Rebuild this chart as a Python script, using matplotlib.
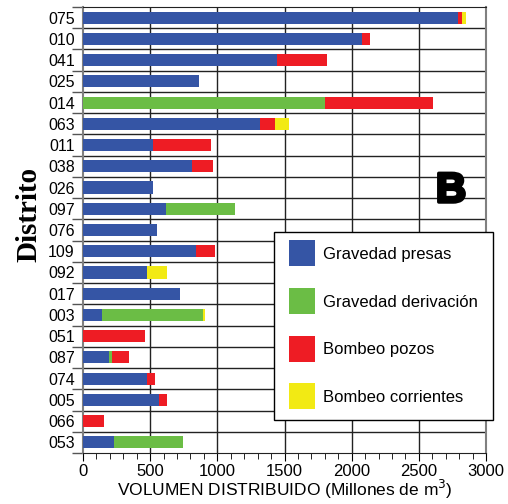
import matplotlib.pyplot as plt
import matplotlib.patheffects as pe
from matplotlib.legend_handler import HandlerPatch
from matplotlib.patches import Rectangle
import numpy as np

distritos = ['075', '010', '041', '025', '014', '063', '011', '038', '026', '097', '076',
             '109', '092', '017', '003', '051', '087', '074', '005', '066', '053']
gravedad_presas = [2795, 2075, 1445, 866, 0, 1318, 524, 809, 519, 616, 553,
                   839, 479, 722, 141, 0, 194, 479, 566, 0, 228]
gravedad_derivacion = [0, 0, 0, 0, 1800, 0, 0, 0, 0, 516, 0,
                       0, 0, 0, 752, 0, 24, 0, 0, 0, 519]
bombeo_pozos = [28, 65, 370, 0, 806, 112, 426, 161, 0, 0, 0,
                146, 0, 0, 0, 462, 124, 55, 57, 156, 0]
bombeo_corrientes = [30, 0, 0, 0, 0, 104, 0, 0, 0, 0, 0,
                     0, 144, 0, 13, 0, 0, 0, 0, 0, 0]

series = [('Gravedad presas', gravedad_presas, '#3555a5'),
          ('Gravedad derivación', gravedad_derivacion, '#6bbd45'),
          ('Bombeo pozos', bombeo_pozos, '#ee1c24'),
          ('Bombeo corrientes', bombeo_corrientes, '#f2ea14')]

plt.rcParams['font.family'] = ['Liberation Sans', 'DejaVu Sans']

fig = plt.figure(figsize=(5.08, 5.04), dpi=100)
ax = fig.add_axes([83/508, 1-453/504, 403/508, 446/504])

y = np.arange(len(distritos))
left = np.zeros(len(distritos))
bars = []
for nombre, vals, color in series:
    vals = np.array(vals, dtype=float)
    b = ax.barh(y, vals, left=left, height=0.57, color=color, label=nombre, zorder=3)
    bars.append(b)
    left += vals

ax.set_xlim(0, 3000)
ax.set_ylim(len(distritos) - 0.5, -0.5)
ax.set_xticks(np.arange(0, 3001, 500))
ax.set_xticks(np.arange(0, 3001, 100), minor=True)
ax.set_yticks(y)
ax.set_yticklabels(distritos, fontsize=11.5)
ax.set_yticks(np.arange(-0.5, len(distritos), 1), minor=True)
ax.tick_params(axis='y', which='major', length=0, pad=6)
ax.tick_params(axis='y', which='minor', length=8, width=1, color='#555555', direction='out')
ax.tick_params(axis='x', which='major', length=6, labelsize=12, direction='out', pad=2)
ax.tick_params(axis='x', which='minor', length=4, direction='out')

for xv in np.arange(500, 3000, 500):
    ax.axvline(xv, color='#222222', lw=1, zorder=1)
ax.grid(False)
for yv in np.arange(0.5, len(distritos) - 0.5, 1):
    ax.axhline(yv, color='#222222', lw=1, zorder=1)

for s in ['left', 'right']:
    ax.spines[s].set_color('#808080')
    ax.spines[s].set_linewidth(1.5)
ax.spines['top'].set_color('#222222')
ax.spines['bottom'].set_color('#222222')

ax.set_xlabel('VOLUMEN DISTRIBUIDO (Millones de m$^3$)', fontsize=12.5)
ax.xaxis.set_label_coords(0.5, -(501 - 453) / 446)
ax.xaxis.label.set_va('bottom')
ax.set_ylabel('Distrito', fontsize=21, fontweight='bold', family='Liberation Serif')
ax.yaxis.set_label_coords(-0.1, (453 - 214) / 446)

fig.text(451/508, 1-191/504, 'B', fontsize=30, fontweight='black', ha='center', va='center',
         color='black', path_effects=[pe.withStroke(linewidth=2.5, foreground='black')])


# square legend keys
def square(legend, orig_handle, xdescent, ydescent, width, height, fontsize):
    c = 0.35 * fontsize
    return Rectangle((-xdescent, c - width / 2), width, width)


leg = ax.legend(handles=[b.patches[0] for b in bars], labels=[s[0] for s in series],
                loc='upper left', bbox_to_anchor=(274/508, 1-232/504), bbox_transform=fig.transFigure,
                fontsize=12, frameon=True, fancybox=False, framealpha=1, edgecolor='black',
                handlelength=1.56, handleheight=0.7, labelspacing=1.97, borderpad=0.89,
                handletextpad=0.5, borderaxespad=0,
                handler_map={Rectangle: HandlerPatch(patch_func=square)})
leg.get_frame().set_linewidth(1)

fig.savefig('out.png', dpi=100)
